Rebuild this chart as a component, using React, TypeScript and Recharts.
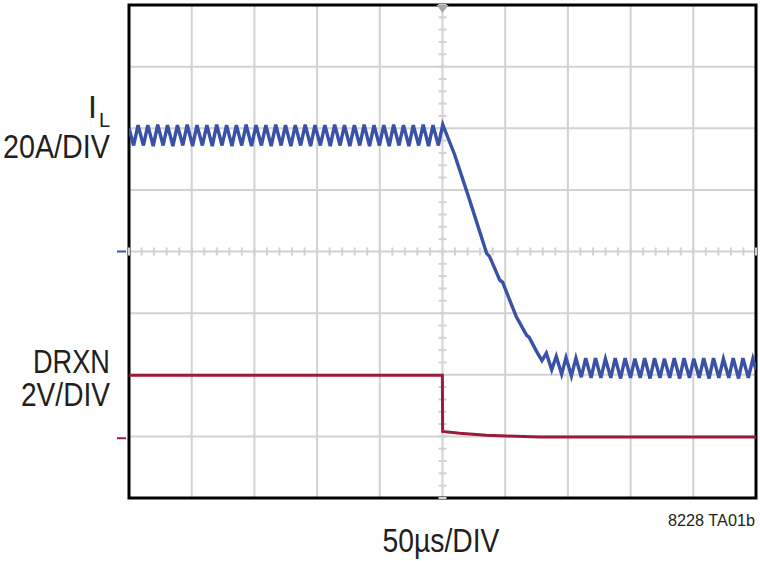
import { LineChart, Line, XAxis, YAxis, CartesianGrid, ReferenceLine, ReferenceDot, ReferenceArea } from "recharts";

// time axis in µs (50µs/DIV), vertical axis in divisions (0 = bottom, 8 = top)
const timeTicks = [0, 50, 100, 150, 200, 250, 300, 350, 400, 450, 500];
const divTicks = [0, 1, 2, 3, 4, 5, 6, 7, 8];

// inductor current trace, I_L (20A/DIV)
const ilTime = [
  0, 3.7, 7.2, 11.5, 15.0, 19.3, 22.9, 27.2, 30.7, 35.0, 38.6, 42.9, 46.4, 50.7, 54.2, 58.5,
  62.1, 66.4, 69.9, 74.2, 77.8, 82.1, 85.6, 89.9, 93.4, 97.7, 101.3, 105.6, 109.1, 113.4,
  117.0, 121.3, 124.8, 129.1, 132.6, 136.9, 140.5, 144.8, 148.3, 152.6, 156.2, 160.5, 164.0,
  168.3, 171.8, 176.1, 179.7, 184.0, 187.5, 191.8, 195.4, 199.7, 203.2, 207.5, 211.0, 215.3,
  218.9, 223.2, 226.7, 231.0, 234.6, 238.9, 242.4, 246.7, 250.2,
  259.7, 271.7, 285.2, 287.5, 295.6, 298.0, 303.6, 308.9, 317.1, 319.0,
  325.0, 329.3, 332.8, 337.1, 340.7, 345.0, 348.5, 352.8, 356.4, 360.7, 364.2, 368.5, 372.0,
  376.3, 379.9, 384.2, 387.7, 392.0, 395.6, 399.9, 403.4, 407.7, 411.2, 415.5, 419.1, 423.4,
  426.9, 431.2, 434.8, 439.1, 442.6, 446.9, 450.4, 454.7, 458.3, 462.6, 466.1, 470.4, 474.0,
  478.3, 481.8, 486.1, 489.6, 493.9, 497.5, 500,
];
const ilValue = [
  6.0, 5.72, 6.05, 5.72, 6.05, 5.71, 6.06, 5.72, 6.05, 5.71, 6.05, 5.72, 6.06, 5.71, 6.05, 5.72,
  6.05, 5.71, 6.06, 5.72, 6.05, 5.71, 6.05, 5.72, 6.06, 5.71, 6.05, 5.72, 6.05, 5.71,
  6.06, 5.72, 6.05, 5.71, 6.05, 5.72, 6.06, 5.71, 6.05, 5.72, 6.05, 5.71, 6.06,
  5.72, 6.05, 5.71, 6.05, 5.72, 6.06, 5.71, 6.05, 5.72, 6.05, 5.71, 6.06, 5.72,
  6.05, 5.71, 6.05, 5.72, 6.06, 5.71, 6.05, 5.72, 6.06,
  5.57, 4.83, 3.97, 3.92, 3.54, 3.5, 3.21, 2.94, 2.64, 2.61,
  2.38, 2.23, 2.35, 2.08, 2.3, 2.01, 2.28, 1.98, 2.27, 1.96, 2.27, 1.95, 2.27,
  1.95, 2.26, 1.95, 2.27, 1.94, 2.27, 1.95, 2.26, 1.95, 2.27, 1.94, 2.27, 1.95,
  2.26, 1.95, 2.27, 1.94, 2.27, 1.95, 2.26, 1.95, 2.27, 1.94, 2.27, 1.95, 2.26,
  1.95, 2.27, 1.94, 2.27, 1.95, 2.26, 2.08,
];

// DRXN trace (2V/DIV)
const drxnTime = [0, 249.9, 250.1, 263.7, 285.0, 301.0, 327.5, 500];
const drxnValue = [1.99, 1.99, 1.08, 1.05, 1.02, 1.005, 0.99, 0.99];

const ilData = ilTime.map((t, i) => ({ t, v: ilValue[i] }));
const drxnData = drxnTime.map((t, i) => ({ t, v: drxnValue[i] }));

const minorX = Array.from({ length: 51 }, (_, i) => i * 10);
const minorY = Array.from({ length: 41 }, (_, i) => +(i * 0.2).toFixed(1));

const BLUE = "#3a52a5";
const RED = "#9c1a3c";
const GRID = "#d2d2d2";
const INK = "#231f20";
const FONT = "'Liberation Sans', Arial, sans-serif";

// condensed labels: squeeze a regular sans into the width the reference uses
function Label(props: { x: number; y: number; w: number; size: number; anchor?: string; children: string }) {
  return (
    <text
      x={props.x}
      y={props.y}
      textAnchor={props.anchor ?? "end"}
      fontFamily={FONT}
      fontSize={props.size}
      fill={INK}
      textLength={props.w}
      lengthAdjust="spacingAndGlyphs"
    >
      {props.children}
    </text>
  );
}

export default function App() {
  return (
    <div style={{ position: "absolute", left: 0, top: 0, width: 760, height: 561, background: "#fff" }}>
      <LineChart width={760} height={561} margin={{ top: 5, right: 4, bottom: 63, left: 129 }}>
        <XAxis type="number" dataKey="t" domain={[0, 500]} ticks={timeTicks} hide allowDataOverflow />
        <YAxis type="number" dataKey="v" domain={[0, 8]} ticks={divTicks} hide allowDataOverflow />
        <CartesianGrid stroke={GRID} strokeWidth={2} />
        {minorX.map((x) => (
          <ReferenceLine key={`mx${x}`} segment={[{ x, y: 3.935 }, { x, y: 4.065 }]} stroke={GRID} strokeWidth={2} />
        ))}
        {minorY.map((y) => (
          <ReferenceLine key={`my${y}`} segment={[{ x: 246.8, y }, { x: 253.2, y }]} stroke={GRID} strokeWidth={2} />
        ))}
        <ReferenceDot
          x={250}
          y={8}
          ifOverflow="visible"
          shape={(p: any) => (
            <polygon points={`${p.cx - 6},${p.cy} ${p.cx + 6},${p.cy} ${p.cx},${p.cy + 8}`} fill="#a8a8a8" />
          )}
        />
        <ReferenceDot
          x={0}
          y={4}
          ifOverflow="visible"
          shape={(p: any) => <line x1={p.cx - 12} x2={p.cx - 3} y1={p.cy} y2={p.cy} stroke={BLUE} strokeWidth={2} />}
        />
        <ReferenceDot
          x={0}
          y={0.97}
          ifOverflow="visible"
          shape={(p: any) => <line x1={p.cx - 12} x2={p.cx - 3} y1={p.cy} y2={p.cy} stroke={RED} strokeWidth={2} />}
        />
        <Line data={drxnData} dataKey="v" type="linear" stroke={RED} strokeWidth={3} dot={false} isAnimationActive={false} />
        <Line data={ilData} dataKey="v" type="linear" stroke={BLUE} strokeWidth={3.4} dot={false} isAnimationActive={false} />
        <ReferenceArea x1={0} x2={500} y1={0} y2={8} fill="none" stroke="#000" strokeWidth={3} ifOverflow="visible" />
        <text x={88} y={118} fontFamily={FONT} fontSize={32} fill={INK}>
          I
        </text>
        <text x={99} y={127} fontFamily={FONT} fontSize={20} fill={INK}>
          L
        </text>
        <Label x={110} y={158} w={107} size={33}>20A/DIV</Label>
        <Label x={110} y={373} w={77} size={33}>DRXN</Label>
        <Label x={110} y={406} w={89} size={33}>2V/DIV</Label>
        <Label x={441} y={552} w={117} size={33} anchor="middle">50µs/DIV</Label>
        <Label x={755} y={526} w={87} size={17}>8228 TA01b</Label>
      </LineChart>
    </div>
  );
}
